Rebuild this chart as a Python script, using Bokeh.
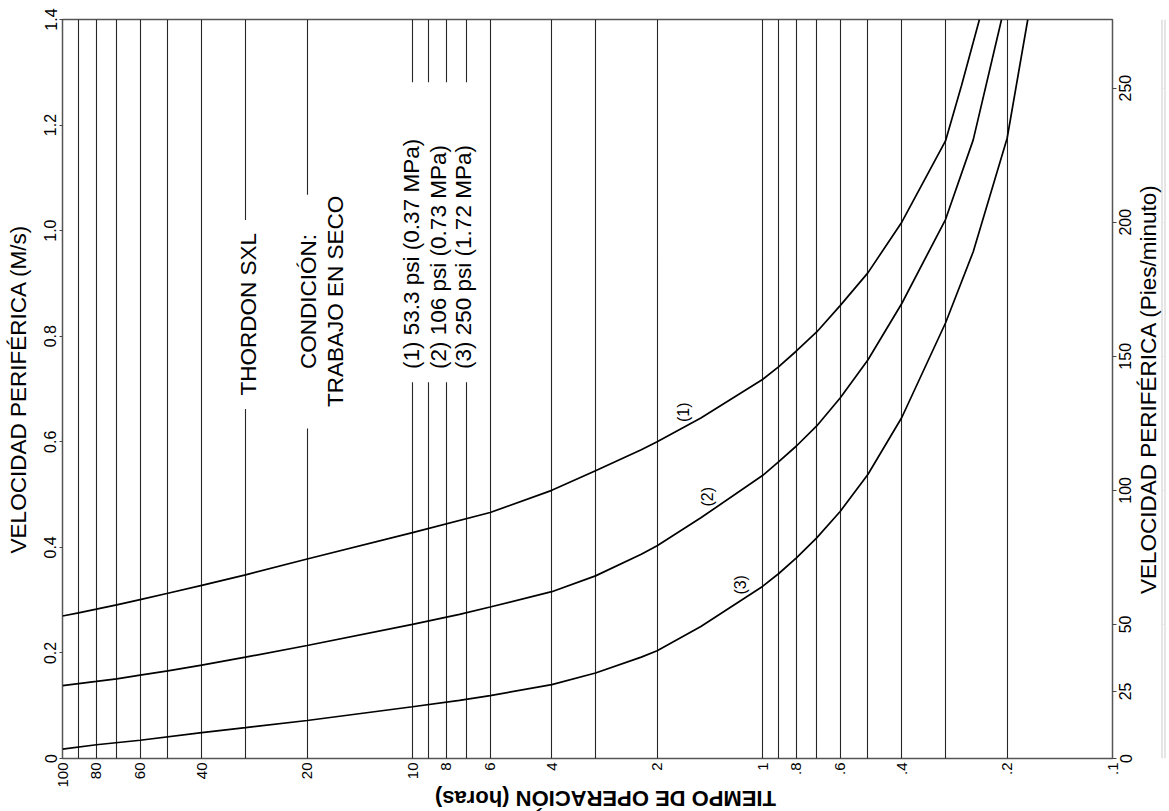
import math
from bokeh.plotting import figure
from bokeh.layouts import row, column
from bokeh.models import Range1d, LinearAxis, FixedTicker, BoxAnnotation, Label
from bokeh.embed import file_html
from bokeh.resources import INLINE

FONT = "Liberation Sans"

# ---- data ----
# curve (1) 53.3 psi
hours_1 = [100, 90, 80, 70, 60, 50, 40, 30, 20, 10, 6, 4, 3, 2.22, 2, 1.5, 1, 0.9, 0.8, 0.7, 0.6, 0.5, 0.4, 0.3, 0.27, 0.24]
speed_1 = [0.270, 0.276, 0.283, 0.291, 0.301, 0.313, 0.328, 0.348, 0.378, 0.428, 0.466, 0.508, 0.545, 0.585, 0.600, 0.645,
           0.718, 0.742, 0.772, 0.808, 0.858, 0.920, 1.016, 1.170, 1.275, 1.40]
# curve (2) 106 psi
hours_2 = [100, 90, 80, 70, 60, 50, 40, 30, 20, 10, 7.34, 6, 4, 3, 2.22, 2, 1.5, 1, 0.9, 0.8, 0.7, 0.6, 0.5, 0.4, 0.3, 0.25, 0.2075]
speed_2 = [0.138, 0.142, 0.146, 0.151, 0.158, 0.166, 0.177, 0.192, 0.214, 0.254, 0.273, 0.287, 0.316, 0.346, 0.387, 0.403,
           0.456, 0.536, 0.562, 0.592, 0.630, 0.683, 0.755, 0.862, 1.021, 1.172, 1.40]
# curve (3) 250 psi
hours_3 = [100, 80, 60, 40, 30, 20, 10, 7.34, 6, 4, 3, 2.22, 2, 1.5, 1, 0.9, 0.8, 0.7, 0.6, 0.5, 0.4, 0.3, 0.25, 0.2, 0.1746]
speed_3 = [0.0176, 0.026, 0.0346, 0.049, 0.0585, 0.072, 0.098, 0.110, 0.119, 0.140, 0.162, 0.192, 0.204, 0.250,
           0.326, 0.350, 0.380, 0.418, 0.468, 0.538, 0.646, 0.825, 0.960, 1.175, 1.40]

time_ticks = [100, 80, 60, 40, 20, 10, 8, 6, 4, 2, 1, 0.8, 0.6, 0.4, 0.2, 0.1]
time_tick_labels = ["100", "80", "60", "40", "20", "10", "8", "6", "4", "2", "1", ".8", ".6", ".4", ".2", ".1"]
time_grid = [100, 90, 80, 70, 60, 50, 40, 30, 20, 10, 9, 8, 7, 6, 4, 3, 2, 1,
             0.9, 0.8, 0.7, 0.6, 0.5, 0.4, 0.3, 0.2, 0.1]
speed_ticks = [0, 0.2, 0.4, 0.6, 0.8, 1.0, 1.2, 1.4]
speed_tick_labels = ["0", "0.2", "0.4", "0.6", "0.8", "1.0", "1.2", "1.4"]
fpm_ticks = [0, 25, 50, 100, 150, 200, 250]
fpm_tick_labels = ["0", "25", "50", "100", "150", "200", "250"]
MS_TO_FPM = 196.85

curve_tags = ["(1)", "(2)", "(3)"]
curve_tag_hours = [1.679, 1.439, 1.156]
curve_tag_speed = [0.656, 0.496, 0.329]

legend_lines = ["(1) 53.3 psi (0.37 MPa)", "(2) 106 psi (0.73 MPa)", "(3) 250 psi (1.72 MPa)"]
legend_hours = [10.07, 8.43, 7.15]

title_time = "TIEMPO DE OPERACIÓN (horas)"
title_ms = "VELOCIDAD PERIFÉRICA (M/s)"
title_fpm = "VELOCIDAD PERIFÉRICA (Pies/minuto)"

# ---- layout (pixels) ----
BL, BT, BB, BR = 62, 19, 29, 9
FW, FH = 1050, 742
WA, HA = BL + FW + BR, BT + FH + BB      # main chart
OVER = 5                                  # right strip overlaps the main chart's right border
WB = 50                                   # strip with the ft/min labels
OVER_C = 7                                # bottom strip overlaps the main chart's bottom border
HC = 811 - HA + OVER_C                    # strip with the bottom title
T_START, T_END = 100, 0.1
V_MAX = 1.4


def common(fig, transparent=False):
    fig.outline_line_color = None
    fig.background_fill_color = "white"
    fig.border_fill_color = "white"
    if transparent:
        fig.background_fill_alpha = 0
        fig.border_fill_alpha = 0


# ---- main chart ----
p = figure(width=WA, height=HA, x_axis_type="log",
           x_range=Range1d(T_START, T_END), y_range=Range1d(0, V_MAX),
           output_backend="svg", toolbar_location=None,
           min_border_top=BT, min_border_left=BL, min_border_right=BR, min_border_bottom=BB)
common(p)
p.outline_line_color = "#555555"
p.outline_line_width = 1.5

p.ygrid.visible = False
p.xgrid.ticker = FixedTicker(ticks=time_grid)
p.xgrid.grid_line_color = "#262626"
p.xgrid.grid_line_width = 1.1

xa = p.xaxis[0]
xa.ticker = FixedTicker(ticks=time_ticks)
xa.major_label_overrides = dict(zip(time_ticks, time_tick_labels))
xa.major_label_orientation = math.pi / 2
xa.major_label_text_font = FONT
xa.major_label_text_font_size = "15px"
xa.major_label_text_color = "black"
xa.major_label_standoff = 4
xa.major_tick_out = 0
xa.major_tick_in = 0
xa.major_tick_line_color = None
xa.minor_tick_line_color = None
xa.axis_line_color = None

ya = p.yaxis[0]
ya.ticker = FixedTicker(ticks=speed_ticks)
ya.major_label_overrides = dict(zip(speed_ticks, speed_tick_labels))
ya.major_label_orientation = "parallel"
ya.major_label_text_font = FONT
ya.major_label_text_font_size = "16px"
ya.major_label_text_color = "black"
ya.major_label_standoff = 3
ya.major_tick_out = 3
ya.major_tick_in = 0
ya.major_tick_line_color = "#444444"
ya.minor_tick_line_color = None
ya.axis_line_color = None
ya.axis_label = title_ms
ya.axis_label_text_font = FONT
ya.axis_label_text_font_style = "normal"
ya.axis_label_text_font_size = "22.5px"
ya.axis_label_text_color = "black"
ya.axis_label_standoff = 11

# ft/min ticks on the right edge of the frame (their labels are in the strip to the right)
p.extra_y_ranges = {"fpm": Range1d(0, V_MAX * MS_TO_FPM)}
rt = LinearAxis(y_range_name="fpm", ticker=FixedTicker(ticks=fpm_ticks))
rt.major_label_overrides = {v: "" for v in fpm_ticks}
rt.major_label_standoff = 0
rt.major_tick_out = 4
rt.major_tick_in = 0
rt.major_tick_line_color = "#444444"
rt.minor_tick_line_color = None
rt.axis_line_color = None
p.add_layout(rt, "right")

for h, s in ((hours_1, speed_1), (hours_2, speed_2), (hours_3, speed_3)):
    p.line(h, s, line_color="black", line_width=1.7)

# gaps in the grid lines behind the texts
for l, r, b, t in ((31.0, 27.9, 0.662, 1.020), (20.9, 19.05, 0.625, 1.068), (10.8, 6.62, 0.713, 1.281)):
    p.add_layout(BoxAnnotation(left=l, right=r, bottom=b, top=t, fill_color="white", fill_alpha=1.0,
                               line_color=None, level="annotation"))


def add_text(fig, x, y, txt, size, align="center", angle=math.pi / 2, bold=False):
    fig.add_layout(Label(x=x, y=y, text=txt, angle=angle, angle_units="rad",
                         text_align=align, text_baseline="middle", text_font=FONT,
                         text_font_style="bold" if bold else "normal",
                         text_font_size=size, text_color="black"))


add_text(p, 29.4, 0.8415, "THORDON SXL", "22.5px")
add_text(p, 19.78, 0.866, "CONDICIÓN:", "22.5px")
add_text(p, 16.6, 0.866, "TRABAJO EN SECO", "22.5px")
for hx, txt in zip(legend_hours, legend_lines):
    add_text(p, hx, 0.738, txt, "22.5px", align="left")
for hx, sy, txt in zip(curve_tag_hours, curve_tag_speed, curve_tags):
    add_text(p, hx, sy, txt, "16px")

# ---- right strip: ft/min axis labels and title, reading bottom-to-top ----
pb = figure(width=WB, height=HA, x_range=Range1d(0, 1), y_range=Range1d(0, V_MAX * MS_TO_FPM),
            output_backend="svg", toolbar_location=None, x_axis_location=None, y_axis_location=None,
            min_border_top=BT, min_border_bottom=BB, min_border_left=0, min_border_right=0)
common(pb, transparent=True)
try:
    pb.margin = (0, 0, 0, -OVER)
except Exception:
    pass

ax_title = LinearAxis(ticker=FixedTicker(ticks=[]), axis_label=title_fpm)
ax_title.axis_line_color = None
ax_title.major_tick_out = 0
ax_title.major_tick_in = 0
ax_title.major_label_standoff = 0
ax_title.axis_label_standoff = 0
ax_title.axis_label_text_font = FONT
ax_title.axis_label_text_font_style = "normal"
ax_title.axis_label_text_font_size = "22.5px"
ax_title.axis_label_text_color = "black"
pb.add_layout(ax_title, "left")

ax_lab = LinearAxis(ticker=FixedTicker(ticks=fpm_ticks))
ax_lab.major_label_overrides = dict(zip(fpm_ticks, fpm_tick_labels))
ax_lab.major_label_orientation = "parallel"
ax_lab.major_label_text_font = FONT
ax_lab.major_label_text_font_size = "16px"
ax_lab.major_label_text_color = "black"
ax_lab.major_label_standoff = 1
ax_lab.major_tick_out = 0
ax_lab.major_tick_in = 0
ax_lab.major_tick_line_color = None
ax_lab.minor_tick_line_color = None
ax_lab.axis_line_color = None
pb.add_layout(ax_lab, "left")

# ---- bottom strip: upside-down time-axis title ----
WC = WA + WB - OVER
pc = figure(width=WC, height=HC, x_range=Range1d(0, WC), y_range=Range1d(0, HC),
            output_backend="svg", toolbar_location=None, x_axis_location=None, y_axis_location=None,
            min_border=0)
common(pc, transparent=True)
pc.grid.visible = False
try:
    pc.margin = (-OVER_C, 0, 0, 0)
except Exception:
    pass
add_text(pc, 605, 13, title_time, "22px", angle=math.pi, bold=True)

layout = column(row(p, pb), pc)
open("out.html", "w").write(file_html(layout, INLINE))
